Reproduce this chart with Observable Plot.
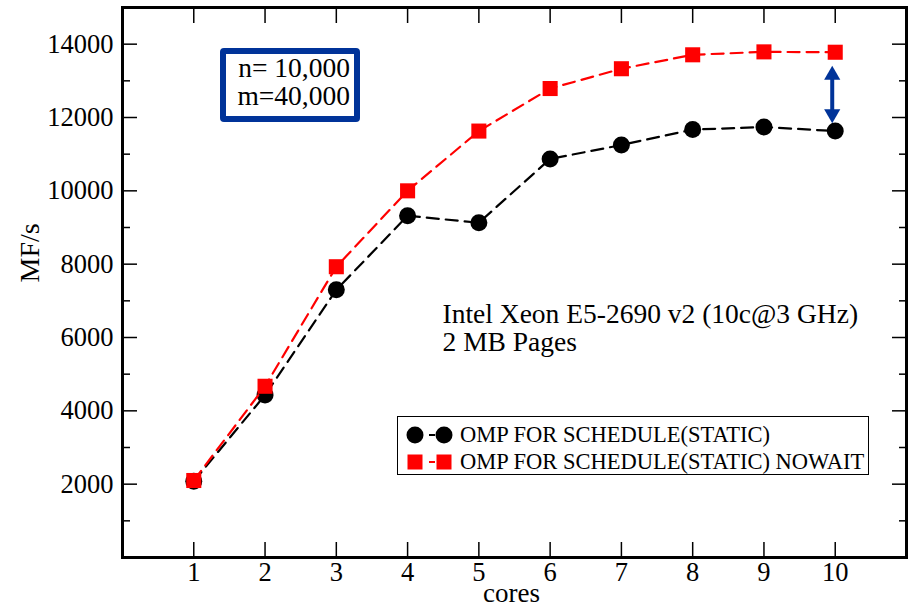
<!DOCTYPE html>
<html>
<head>
<meta charset="utf-8">
<script src="https://cdn.jsdelivr.net/npm/d3@7"></script>
<script src="https://cdn.jsdelivr.net/npm/@observablehq/plot@0.6"></script>
<style>
  html, body { margin: 0; padding: 0; background: #fff; }
  #wrap { position: relative; width: 909px; height: 610px; font-family: "Liberation Serif", "Times New Roman", serif; }
  #nbox { position: absolute; left: 220px; top: 48px; width: 128px; height: 62px; border: 6.5px solid #003399; border-radius: 4px;
          font-size: 27.5px; line-height: 28px; text-align: right; box-sizing: content-box; }
  #nbox div { padding-right: 4px; }
  #legend { position: absolute; left: 397px; top: 416px; width: 472px; height: 59px; border: 1.5px solid #000; box-sizing: border-box; }
  #legend .row { position: absolute; left: 0; height: 24px; display: flex; align-items: center; font-size: 22.5px; white-space: nowrap; }
  #legend svg { display: block; flex: none; }
</style>
</head>
<body>
<div id="wrap"></div>
<script>
// ---- data ----
const cores = [1, 2, 3, 4, 5, 6, 7, 8, 9, 10];
const staticMFs = [2080, 4430, 7300, 9320, 9130, 10870, 11250, 11670, 11740, 11630];
const nowaitMFs = [2100, 4670, 7930, 10000, 11630, 12790, 13330, 13710, 13790, 13780];
const seriesNames = ["OMP FOR SCHEDULE(STATIC)", "OMP FOR SCHEDULE(STATIC) NOWAIT"];
const yMajorTicks = [2000, 4000, 6000, 8000, 10000, 12000, 14000];
const yMinorTicks = [1000, 3000, 5000, 7000, 9000, 11000, 13000];
const xTicks = [1, 2, 3, 4, 5, 6, 7, 8, 9, 10];
const noteLines = ["Intel Xeon E5-2690 v2 (10c@3 GHz)", "2 MB Pages"];
const sizeLines = ["n= 10,000", "m=40,000"];
const gapArrow = [{x: 10, top: 13400, bottom: 11850}];

const staticData = cores.map((c, i) => ({cores: c, v: staticMFs[i]}));
const nowaitData = cores.map((c, i) => ({cores: c, v: nowaitMFs[i]}));

const blue = "#003399";
const font = "Liberation Serif";

const chart = Plot.plot({
  width: 909,
  height: 610,
  marginLeft: 122,
  marginRight: 3,
  marginTop: 7,
  marginBottom: 53,
  style: {fontFamily: font, fontSize: "26px", background: "white", color: "black"},
  x: {domain: [0, 11]},
  y: {domain: [0, 15000]},
  marks: [
    // tick marks (inward) on all four sides
    Plot.axisY(yMajorTicks, {anchor: "left", tickSize: -15, fill: "none", strokeWidth: 1.5, label: null}),
    Plot.axisY(yMinorTicks, {anchor: "left", tickSize: -8, fill: "none", strokeWidth: 1.5, label: null}),
    Plot.axisY(yMajorTicks, {anchor: "right", tickSize: -15, fill: "none", strokeWidth: 1.5, label: null}),
    Plot.axisY(yMinorTicks, {anchor: "right", tickSize: -8, fill: "none", strokeWidth: 1.5, label: null}),
    Plot.axisX(xTicks, {anchor: "bottom", tickSize: -15, fill: "none", strokeWidth: 1.5, label: null}),
    Plot.axisX(xTicks, {anchor: "top", tickSize: -15, fill: "none", strokeWidth: 1.5, label: null}),
    // tick labels
    Plot.axisY(yMajorTicks, {anchor: "left", tickSize: 0, tickPadding: 9, fontSize: 26.5, tickFormat: d => String(d), label: null}),
    Plot.axisX(xTicks, {anchor: "bottom", tickSize: 0, tickPadding: 5, fontSize: 26.5, tickFormat: d => String(d), label: null}),
    // axis labels
    Plot.text(["MF/s"], {frameAnchor: "left", dx: -92, rotate: -90, fontSize: 28}),
    Plot.text(["cores"], {frameAnchor: "bottom", dy: 44, dx: -3, fontSize: 27}),
    // series
    Plot.line(staticData, {x: "cores", y: "v", stroke: "black", strokeWidth: 2.2, strokeDasharray: "12,7"}),
    Plot.dot(staticData, {x: "cores", y: "v", r: 8.5, fill: "black", stroke: "none"}),
    Plot.line(nowaitData, {x: "cores", y: "v", stroke: "#ff0000", strokeWidth: 2.2, strokeDasharray: "12,7"}),
    Plot.dot(nowaitData, {x: "cores", y: "v", symbol: "square", r: 8.5, fill: "#ff0000", stroke: "none"}),
    // double arrow showing the gap
    Plot.ruleX(gapArrow, {x: "x", y1: "top", y2: "bottom", stroke: blue, strokeWidth: 4, dx: -3, insetTop: 10, insetBottom: 10}),
    Plot.dot(gapArrow, {x: "x", y: "top", symbol: "triangle", r: 6, fill: blue, stroke: "none", dx: -3, dy: 9}),
    Plot.dot(gapArrow, {x: "x", y: "bottom", symbol: "triangle", r: 6, fill: blue, stroke: "none", dx: -3, dy: -9, rotate: 180}),
    // annotation
    Plot.text([noteLines.join("\n")], {x: 4.49, y: 5620, textAnchor: "start", lineAnchor: "bottom", fontSize: 27.5, lineHeight: 1.05}),
    Plot.frame({stroke: "black", strokeWidth: 3})
  ]
});

const wrap = document.getElementById("wrap");
wrap.appendChild(chart);

// size box
const nbox = document.createElement("div");
nbox.id = "nbox";
nbox.innerHTML = sizeLines.map(s => `<div>${s}</div>`).join("");
wrap.appendChild(nbox);

// legend
const legend = document.createElement("div");
legend.id = "legend";
const symbolSvg = (kind) => {
  const color = kind === "circle" ? "black" : "#ff0000";
  const shape = (cx) => kind === "circle"
    ? `<circle cx="${cx}" cy="12" r="8.5" fill="${color}"/>`
    : `<rect x="${cx - 7.5}" y="4.5" width="15" height="15" fill="${color}"/>`;
  return `<svg width="62" height="24"><line x1="17" y1="12" x2="46" y2="12" stroke="${color}" stroke-width="2" stroke-dasharray="6,8"/>${shape(17)}${shape(46)}</svg>`;
};
seriesNames.forEach((name, i) => {
  const row = document.createElement("div");
  row.className = "row";
  row.style.top = (i === 0 ? 6 : 33) + "px";
  row.innerHTML = symbolSvg(i === 0 ? "circle" : "square") + `<span>${name}</span>`;
  legend.appendChild(row);
});
wrap.appendChild(legend);
</script>
</body>
</html>
